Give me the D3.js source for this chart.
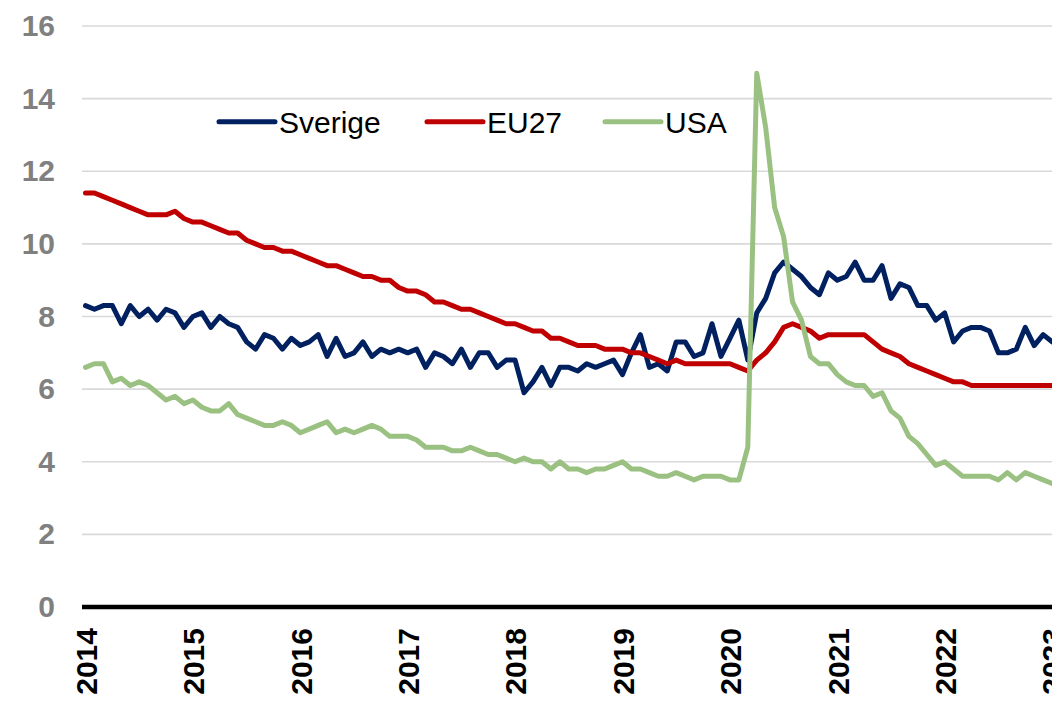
<!DOCTYPE html>
<html>
<head>
<meta charset="utf-8">
<script src="https://cdn.jsdelivr.net/npm/d3@7"></script>
<style>
  html, body { margin: 0; padding: 0; background: #fff; }
  svg { display: block; }
</style>
</head>
<body>
<svg id="chart" width="1052" height="701"></svg>
<script>
// ---- data (monthly, Jan 2014 .. Jan 2023) ----
const startYear = 2014;
const yearLabels = ["2014","2015","2016","2017","2018","2019","2020","2021","2022","2023"];
const yTicks = [0, 2, 4, 6, 8, 10, 12, 14, 16];
const seriesNames = ["Sverige", "EU27", "USA"];

const sverige = [
  8.3, 8.2, 8.3, 8.3, 7.8, 8.3, 8.0, 8.2, 7.9, 8.2, 8.1, 7.7,
  8.0, 8.1, 7.7, 8.0, 7.8, 7.7, 7.3, 7.1, 7.5, 7.4, 7.1, 7.4,
  7.2, 7.3, 7.5, 6.9, 7.4, 6.9, 7.0, 7.3, 6.9, 7.1, 7.0, 7.1,
  7.0, 7.1, 6.6, 7.0, 6.9, 6.7, 7.1, 6.6, 7.0, 7.0, 6.6, 6.8,
  6.8, 5.9, 6.2, 6.6, 6.1, 6.6, 6.6, 6.5, 6.7, 6.6, 6.7, 6.8,
  6.4, 7.0, 7.5, 6.6, 6.7, 6.5, 7.3, 7.3, 6.9, 7.0, 7.8, 6.9,
  7.4, 7.9, 6.8, 8.1, 8.5, 9.2, 9.5, 9.3, 9.1, 8.8, 8.6, 9.2,
  9.0, 9.1, 9.5, 9.0, 9.0, 9.4, 8.5, 8.9, 8.8, 8.3, 8.3, 7.9,
  8.1, 7.3, 7.6, 7.7, 7.7, 7.6, 7.0, 7.0, 7.1, 7.7, 7.2, 7.5,
  7.3
];
const eu27 = [
  11.4, 11.4, 11.3, 11.2, 11.1, 11.0, 10.9, 10.8, 10.8, 10.8, 10.9, 10.7,
  10.6, 10.6, 10.5, 10.4, 10.3, 10.3, 10.1, 10.0, 9.9, 9.9, 9.8, 9.8,
  9.7, 9.6, 9.5, 9.4, 9.4, 9.3, 9.2, 9.1, 9.1, 9.0, 9.0, 8.8,
  8.7, 8.7, 8.6, 8.4, 8.4, 8.3, 8.2, 8.2, 8.1, 8.0, 7.9, 7.8,
  7.8, 7.7, 7.6, 7.6, 7.4, 7.4, 7.3, 7.2, 7.2, 7.2, 7.1, 7.1,
  7.1, 7.0, 7.0, 6.9, 6.8, 6.7, 6.8, 6.7, 6.7, 6.7, 6.7, 6.7,
  6.7, 6.6, 6.5, 6.8, 7.0, 7.3, 7.7, 7.8, 7.7, 7.6, 7.4, 7.5,
  7.5, 7.5, 7.5, 7.5, 7.3, 7.1, 7.0, 6.9, 6.7, 6.6, 6.5, 6.4,
  6.3, 6.2, 6.2, 6.1, 6.1, 6.1, 6.1, 6.1, 6.1, 6.1, 6.1, 6.1,
  6.1
];
const usa = [
  6.6, 6.7, 6.7, 6.2, 6.3, 6.1, 6.2, 6.1, 5.9, 5.7, 5.8, 5.6,
  5.7, 5.5, 5.4, 5.4, 5.6, 5.3, 5.2, 5.1, 5.0, 5.0, 5.1, 5.0,
  4.8, 4.9, 5.0, 5.1, 4.8, 4.9, 4.8, 4.9, 5.0, 4.9, 4.7, 4.7,
  4.7, 4.6, 4.4, 4.4, 4.4, 4.3, 4.3, 4.4, 4.3, 4.2, 4.2, 4.1,
  4.0, 4.1, 4.0, 4.0, 3.8, 4.0, 3.8, 3.8, 3.7, 3.8, 3.8, 3.9,
  4.0, 3.8, 3.8, 3.7, 3.6, 3.6, 3.7, 3.6, 3.5, 3.6, 3.6, 3.6,
  3.5, 3.5, 4.4, 14.7, 13.2, 11.0, 10.2, 8.4, 7.9, 6.9, 6.7, 6.7,
  6.4, 6.2, 6.1, 6.1, 5.8, 5.9, 5.4, 5.2, 4.7, 4.5, 4.2, 3.9,
  4.0, 3.8, 3.6, 3.6, 3.6, 3.6, 3.5, 3.7, 3.5, 3.7, 3.6, 3.5,
  3.4
];
const seriesColors = ["#002060", "#C00000", "#9BC182"];

// ---- chart ----
const W = 1052, H = 701;
const plotLeft = 82;
const svg = d3.select("#chart");

const x = d3.scaleLinear().domain([0, sverige.length - 1]).range([85.5, 1052.1]);
const y = d3.scaleLinear().domain([0, 16]).range([607, 26]);

// gridlines
svg.append("g")
  .selectAll("line")
  .data(yTicks.filter(d => d !== 0))
  .join("line")
  .attr("x1", plotLeft).attr("x2", W)
  .attr("y1", d => y(d)).attr("y2", d => y(d))
  .attr("stroke", "#d9d9d9").attr("stroke-width", 1.6);

// y axis labels
const yAxis = d3.axisLeft(y).tickValues(yTicks).tickSize(0).tickPadding(0).tickFormat(d3.format("d"));
const yg = svg.append("g").attr("transform", `translate(55,0)`).call(yAxis);
yg.select(".domain").remove();
yg.selectAll("text")
  .attr("font-family", "Arial, 'Liberation Sans', sans-serif")
  .attr("font-size", 30).attr("font-weight", "bold")
  .attr("fill", "#808080");

// x axis labels (January of each year)
const xTickIdx = yearLabels.map((_, i) => i * 12);
const xAxis = d3.axisBottom(x).tickValues(xTickIdx).tickSize(0)
  .tickFormat((d, i) => yearLabels[i]);
const xg = svg.append("g").attr("transform", `translate(0,${y(0)})`).call(xAxis);
xg.select(".domain").remove();
xg.selectAll("text")
  .attr("font-family", "Arial, 'Liberation Sans', sans-serif")
  .attr("font-size", 30).attr("font-weight", "bold")
  .attr("fill", "#000")
  .attr("text-anchor", "end")
  .attr("transform", "rotate(-90)")
  .attr("x", -21).attr("y", 0).attr("dy", "0.36em");

// lines
const line = d3.line().x((d, i) => x(i)).y(d => y(d)).curve(d3.curveLinear);
const allSeries = [sverige, eu27, usa];
// draw order: USA under? Keep Sverige, EU27, USA order as in reference
svg.append("g")
  .selectAll("path")
  .data(allSeries)
  .join("path")
  .attr("d", d => line(d))
  .attr("fill", "none")
  .attr("stroke", (d, i) => seriesColors[i])
  .attr("stroke-width", 5)
  .attr("stroke-linejoin", "round")
  .attr("stroke-linecap", "round");

// x axis line
svg.append("line")
  .attr("x1", plotLeft).attr("x2", W)
  .attr("y1", y(0)).attr("y2", y(0))
  .attr("stroke", "#000").attr("stroke-width", 4.5);

// legend
const legendX = [219, 427, 605];
const legendY = 121.7;
const lg = svg.append("g");
seriesNames.forEach((name, i) => {
  lg.append("line")
    .attr("x1", legendX[i]).attr("x2", legendX[i] + 56)
    .attr("y1", legendY).attr("y2", legendY)
    .attr("stroke", seriesColors[i]).attr("stroke-width", 5)
    .attr("stroke-linecap", "round");
  lg.append("text")
    .attr("x", legendX[i] + 60).attr("y", legendY)
    .attr("dy", "0.36em")
    .attr("font-family", "Arial, 'Liberation Sans', sans-serif")
    .attr("font-size", 30)
    .attr("fill", "#000")
    .text(name);
});
</script>
</body>
</html>
